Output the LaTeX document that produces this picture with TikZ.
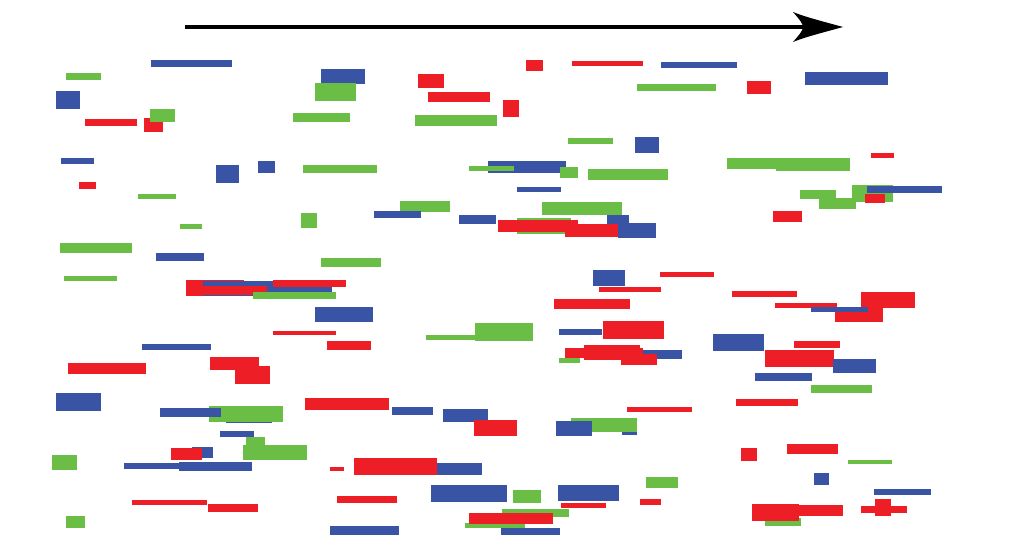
\documentclass[tikz,border=0pt]{standalone}
\definecolor{cred}{RGB}{237,30,38}
\definecolor{cblue}{RGB}{58,84,165}
\definecolor{cgreen}{RGB}{106,189,69}
\newcommand\boxR[4]{\fill[cred] (#1,#2) rectangle (#3,#4);}
\newcommand\boxB[4]{\fill[cblue] (#1,#2) rectangle (#3,#4);}
\newcommand\boxG[4]{\fill[cgreen] (#1,#2) rectangle (#3,#4);}
\begin{document}
\begin{tikzpicture}[x=1pt,y=-1pt]
\useasboundingbox[fill=white] (0,0) rectangle (1024,557);
% arrow
\coordinate (as) at (185,27);
\coordinate (ae) at (803,27);
\draw[line width=4pt] (as) -- (ae);
\fill (843,27) .. controls (825,22) and (805,17) .. (793,12)
      .. controls (800,20) and (803,24) .. (803,27)
      .. controls (803,30) and (800,34) .. (793,42)
      .. controls (805,37) and (825,32) .. cycle;
% top-left region
\boxB{151}{60}{232}{67}
\boxG{66}{73}{101}{80}
\boxB{321}{69}{365}{84}
\boxG{315}{83}{356}{101}
\boxB{56}{91}{80}{109}
\boxR{85}{119}{137}{126}
\boxR{144}{118}{163}{132}
\boxG{150}{109}{175}{122}
\boxG{293}{113}{350}{122}
\boxB{61}{158}{94}{164}
\boxB{216}{165}{239}{183}
\boxB{258}{161}{275}{173}
\boxG{303}{165}{377}{173}
\boxR{79}{182}{96}{189}
\boxG{138}{194}{176}{199}
\boxG{180}{224}{202}{229}
\boxG{301}{213}{317}{228}
\boxG{60}{243}{132}{253}
\boxB{156}{253}{204}{261}
\boxG{321}{258}{381}{267}
\boxG{64}{276}{117}{281}
% cluster 186-346 x 280-299
\boxR{186}{280}{244}{296}
\boxB{203}{281}{268}{296}
\boxB{245}{281}{275}{294}
\boxR{203}{286}{267}{295}
\boxR{273}{280}{346}{287}
\boxB{273}{287}{332}{292}
\boxG{253}{292}{336}{299}
% top-middle
\boxR{526}{60}{543}{71}
\boxR{572}{61}{643}{66}
\boxB{661}{62}{737}{68}
\boxR{418}{74}{444}{88}
\boxG{637}{84}{716}{91}
\boxR{428}{92}{490}{102}
\boxR{503}{100}{519}{117}
\boxG{415}{115}{497}{126}
\boxG{568}{138}{613}{144}
\boxB{635}{137}{659}{153}
\boxB{488}{161}{566}{173}
\boxG{469}{166}{514}{171}
\boxG{560}{167}{578}{178}
\boxG{588}{169}{668}{180}
\boxB{517}{187}{561}{192}
\boxG{400}{201}{450}{212}
\boxB{374}{211}{421}{218}
\boxB{459}{215}{496}{224}
\boxG{542}{202}{622}{215}
\boxG{517}{218}{571}{234}
\boxB{607}{215}{629}{230}
\boxR{498}{220}{578}{232}
\boxR{565}{224}{618}{237}
\boxB{618}{223}{656}{238}
\boxB{593}{270}{625}{286}
\boxR{660}{272}{714}{277}
\boxR{599}{287}{661}{292}
\boxR{554}{299}{630}{309}
% top-right
\boxB{805}{72}{888}{85}
\boxR{747}{81}{771}{94}
\boxR{871}{153}{894}{158}
\boxG{727}{158}{810}{169}
\boxG{776}{158}{850}{171}
\boxG{800}{190}{836}{199}
\boxG{819}{198}{856}{209}
\boxG{852}{185}{893}{202}
\boxB{867}{186}{942}{193}
\boxR{865}{194}{885}{203}
\boxR{773}{211}{802}{222}
% middle band
\boxB{315}{307}{373}{322}
\boxR{273}{331}{336}{335}
\boxR{327}{341}{371}{350}
\boxB{142}{344}{211}{350}
\boxR{68}{363}{146}{374}
\boxR{210}{357}{259}{370}
\boxR{235}{366}{270}{384}
\boxG{426}{335}{475}{340}
\boxG{475}{323}{533}{341}
\boxB{559}{329}{602}{335}
\boxR{603}{321}{664}{339}
\boxG{559}{358}{580}{363}
\boxB{643}{350}{682}{359}
\boxR{565}{348}{643}{358}
\boxR{584}{345}{640}{360}
\boxR{621}{354}{657}{365}
\boxR{732}{291}{797}{297}
\boxR{775}{303}{837}{308}
\boxR{835}{308}{883}{322}
\boxR{861}{292}{915}{308}
\boxB{811}{307}{868}{312}
\boxB{713}{334}{764}{351}
\boxR{794}{341}{840}{348}
\boxR{765}{350}{834}{367}
\boxB{833}{359}{876}{373}
\boxB{755}{373}{812}{381}
\boxG{811}{385}{872}{393}
% lower-left
\boxB{56}{393}{101}{411}
\boxB{226}{420}{272}{423}
\boxG{209}{406}{283}{422}
\boxB{160}{408}{221}{417}
\boxR{305}{398}{389}{410}
\boxB{220}{431}{254}{437}
\boxG{246}{437}{265}{446}
\boxG{243}{445}{307}{460}
\boxB{192}{447}{213}{458}
\boxR{171}{448}{202}{460}
\boxG{52}{455}{77}{470}
\boxB{124}{463}{180}{469}
\boxB{179}{462}{252}{471}
\boxR{330}{467}{344}{471}
\boxR{132}{500}{207}{505}
\boxR{208}{504}{258}{512}
\boxR{337}{496}{397}{503}
\boxG{66}{516}{85}{528}
\boxB{330}{526}{399}{535}
% lower-middle
\boxB{392}{407}{433}{415}
\boxB{443}{409}{488}{422}
\boxR{474}{420}{517}{436}
\boxB{622}{432}{637}{435}
\boxG{571}{418}{637}{432}
\boxB{556}{421}{592}{436}
\boxR{627}{407}{692}{412}
\boxR{354}{458}{437}{475}
\boxB{437}{463}{482}{475}
\boxB{431}{485}{507}{502}
\boxG{513}{490}{541}{503}
\boxB{558}{485}{619}{501}
\boxR{561}{503}{606}{508}
\boxR{640}{499}{661}{505}
\boxG{646}{477}{678}{488}
\boxG{502}{509}{569}{517}
\boxG{465}{523}{525}{528}
\boxR{469}{513}{553}{524}
\boxB{501}{528}{560}{535}
% lower-right
\boxR{736}{399}{798}{406}
\boxR{741}{448}{757}{461}
\boxR{787}{444}{838}{454}
\boxG{848}{460}{892}{464}
\boxB{814}{473}{829}{485}
\boxB{874}{489}{931}{495}
\boxG{765}{518}{801}{526}
\boxR{752}{504}{799}{521}
\boxR{799}{505}{843}{516}
\boxR{861}{506}{907}{513}
\boxR{875}{499}{891}{516}
\end{tikzpicture}
\end{document}
